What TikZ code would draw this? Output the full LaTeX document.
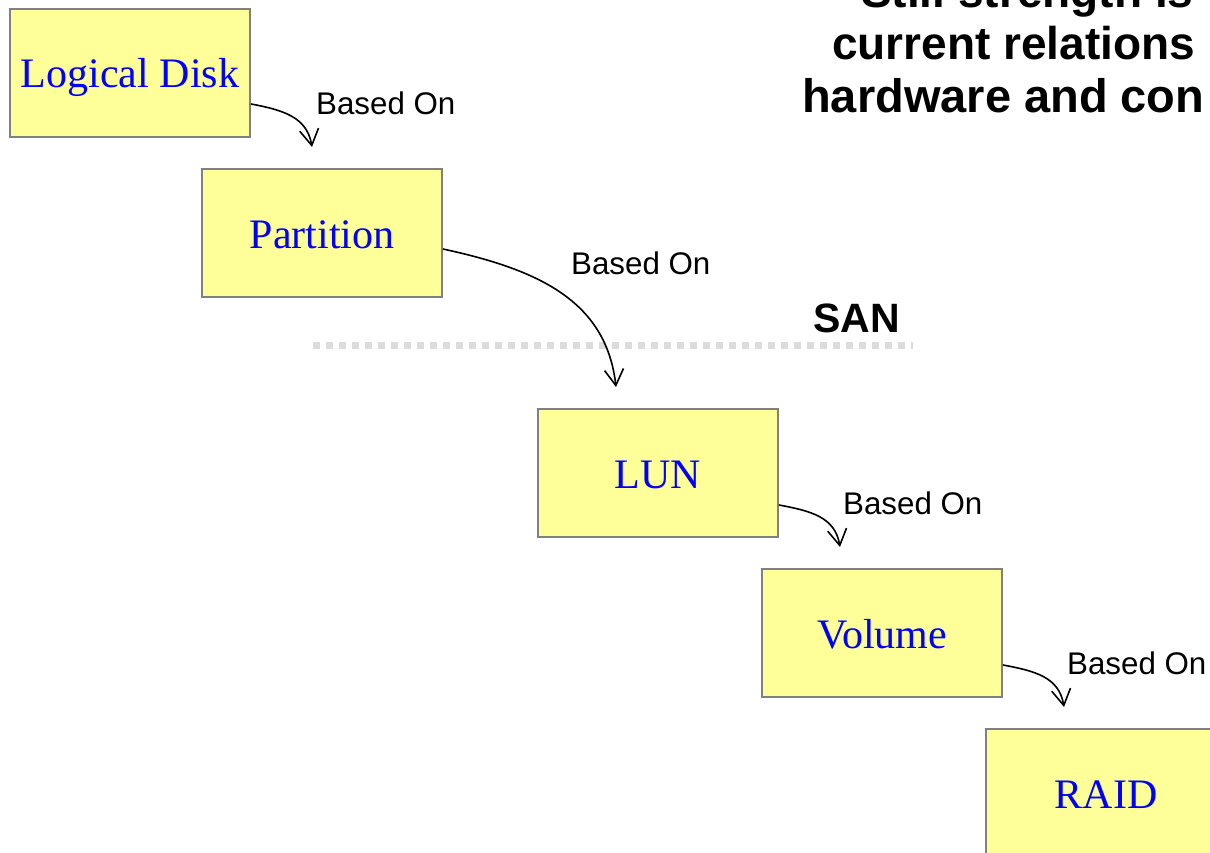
\documentclass[tikz,border=0pt]{standalone}
\usepackage{fontspec}
\setmainfont{Liberation Serif}
\newfontfamily\arialfont{Liberation Sans}
\usetikzlibrary{arrows.meta,calc}
\definecolor{boxfill}{HTML}{FFFF99}
\definecolor{boxline}{HTML}{808080}
\definecolor{sanline}{HTML}{DCDCDC}
\tikzset{
  entity/.style={draw=boxline, line width=2pt, fill=boxfill, minimum width=240pt, minimum height=128pt,
    inner sep=0pt, text=blue, text height=30pt, text depth=0pt, font=\fontsize{42}{46}\selectfont},
  rel/.style={draw=black, line width=1.6pt, -{Straight Barb[length=16pt,width=19pt,line width=1.6pt]}},
  rellabel/.style={anchor=west, inner sep=0pt, font=\arialfont\fontsize{31.3}{34}\selectfont},
  titleline/.style={anchor=base west, inner sep=0pt, font=\arialfont\bfseries\fontsize{46}{50}\selectfont},
  sandash/.style={draw=sanline, line width=7pt, dash pattern=on 7pt off 6pt}
}
\begin{document}
\begin{tikzpicture}[x=1pt,y=-1pt]
\useasboundingbox (0,0) rectangle (1210,853);
\clip (0,0) rectangle (1210,853);
\fill[white] (0,0) rectangle (1210,853);

% title (partly outside the frame)
\node[titleline] (t1) at (861,8) {Still strength is};
\node[titleline] (t2) at (832,60) {current relations};
\node[titleline, font=\arialfont\bfseries\fontsize{47}{50}\selectfont] (t3) at (802,113) {hardware and con};

% SAN separator
\draw[sandash] (313,345) -- (913,345);
\node[anchor=west, inner sep=0pt, font=\arialfont\bfseries\fontsize{41}{44}\selectfont] (san) at (813,318) {SAN};

% boxes
\node[entity] (ld) at (130,73) {Logical Disk};
\node[entity] (pa) at (322,233) {Partition};
\node[entity] (lun) at (658,473) {LUN};
\node[entity] (vol) at (882,633) {Volume};
\node[entity] (raid) at (1106,793) {RAID};

% connectors
\coordinate (s1) at ($(ld.east)+(0,31)$);
\coordinate (e1) at ($(pa.north west)+(111,-21)$);
\draw[rel] (s1) .. controls ($(s1)+(32,6)$) and ($(e1)+(-5,-30)$) .. (e1);

\coordinate (s2) at ($(pa.east)+(0,16)$);
\coordinate (e2) at ($(lun.north west)+(79,-21)$);
\draw[rel] (s2) .. controls ($(s2)+(92,20)$) and ($(e2)+(-10,-88)$) .. (e2);

\coordinate (s3) at ($(lun.east)+(0,32)$);
\coordinate (e3) at ($(vol.north west)+(79,-21)$);
\draw[rel] (s3) .. controls ($(s3)+(32,6)$) and ($(e3)+(-5,-30)$) .. (e3);

\coordinate (s4) at ($(vol.east)+(0,32)$);
\coordinate (e4) at ($(raid.north west)+(79,-21)$);
\draw[rel] (s4) .. controls ($(s4)+(32,6)$) and ($(e4)+(-5,-30)$) .. (e4);

% labels
\node[rellabel] (l1) at (316,103) {Based On};
\node[rellabel] (l2) at (571,263) {Based On};
\node[rellabel] (l3) at (843,503) {Based On};
\node[rellabel] (l4) at (1067,663) {Based On};
\end{tikzpicture}
\end{document}
